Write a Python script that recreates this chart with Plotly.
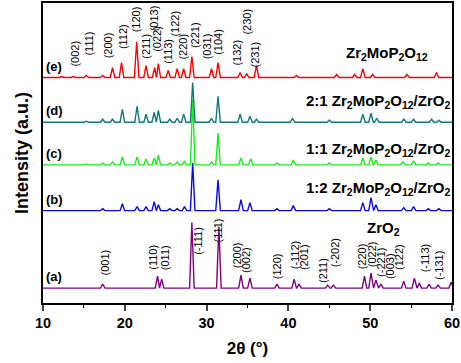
import plotly.graph_objects as go

# ---------------- data ----------------
# peak positions (2theta, deg) and heights (a.u.) for each pattern
e_pos = [12.3, 13.7, 15.3, 17.3, 18.5, 19.6, 21.45, 22.6, 23.65, 24.1, 25.3, 26.4, 27.2, 28.2, 30.6, 31.4, 34.1, 34.9, 36.1, 41.0, 45.9, 48.1, 49.1, 50.3, 54.5, 58.1]
e_h   = [1, 1, 2, 2, 10, 15, 36, 12, 10, 14, 7, 9, 9, 21, 9, 15, 5, 4, 12, 2, 3, 3, 9, 3, 3, 5]

d_pos = [15.3, 17.3, 18.5, 19.7, 21.5, 22.6, 23.6, 24.1, 25.5, 26.4, 27.2, 28.3, 30.6, 31.4, 34.1, 35.3, 36.1, 40.5, 45.0, 49.1, 50.1, 50.8, 54.1, 55.3, 57.5, 58.4]
d_h   = [1, 3, 3, 13, 16, 8, 10, 12, 3, 4, 8, 40, 4, 26, 8, 6, 3, 4, 2, 8, 9, 4, 3, 3, 3, 2]

c_pos = [15.3, 17.3, 18.5, 19.7, 21.5, 22.6, 23.6, 24.1, 25.5, 26.4, 27.3, 28.3, 30.6, 31.4, 34.2, 35.4, 38.6, 40.6, 45.0, 49.1, 50.1, 50.7, 54.0, 55.3, 57.1, 58.3]
c_h   = [1, 2, 3, 8, 8, 6, 7, 10, 2, 3, 4, 66, 3, 32, 7, 6, 2, 5, 2, 7, 8, 5, 3, 4, 2, 2]

b_pos = [17.3, 19.7, 21.5, 22.6, 23.6, 24.1, 25.5, 26.4, 27.3, 28.3, 31.4, 34.2, 35.3, 38.6, 40.6, 45.0, 49.1, 50.1, 50.7, 54.1, 55.3, 57.1, 58.4]
b_h   = [2, 7, 4, 4, 9, 6, 2, 2, 4, 48, 31, 11, 8, 2, 5, 2, 8, 13, 6, 3, 4, 2, 2]

a_pos = [17.3, 24.0, 24.5, 28.2, 31.5, 34.2, 35.3, 38.6, 40.7, 41.3, 44.8, 45.5, 49.3, 50.1, 50.7, 51.3, 54.1, 55.4, 56.0, 57.2, 58.3, 59.9]
a_h   = [4, 12, 9, 66, 62, 13, 10, 4, 9, 4, 3, 3, 12, 15, 8, 4, 7, 10, 5, 4, 3, 6]

series_names  = ["(a)", "(b)", "(c)", "(d)", "(e)"]
series_offset = [15, 93, 139, 182, 227]
series_colors = ["#800080", "#0a0ae6", "#19ee19", "#0f7a78", "#ff0000"]
series_pos = [a_pos, b_pos, c_pos, d_pos, e_pos]
series_h   = [a_h, b_h, c_h, d_h, e_h]

# Miller-index labels for Zr2MoP2O12 (e)
e_lab_text = ["(002)", "(111)", "(200)", "(112)", "(120)", "(211)", "(013)", "(022)", "(113)", "(122)", "(220)", "(221)", "(031)", "(104)", "(132)", "(230)", "(231)"]
e_lab_x    = [13.9, 15.6, 17.9, 19.7, 21.3, 22.6, 23.5, 23.95, 25.3, 26.1, 27.1, 28.5, 30.0, 31.4, 33.7, 34.9, 35.9]
e_lab_y    = [251, 261, 259, 268, 286, 258, 287, 266, 253, 281, 258, 270, 258, 263, 252, 283, 250]

# Miller-index labels for ZrO2 (a)
a_lab_text = ["(001)", "(110)", "(011)", "(-111)", "(111)", "(200)", "(002)", "(120)", "(-112)", "(201)", "(211)", "(-202)", "(220)", "(022)", "(-221)", "(003)", "(122)", "(-113)", "(-131)"]
a_lab_x    = [17.6, 23.5, 24.9, 29.0, 31.4, 33.7, 34.9, 38.6, 40.8, 42.0, 44.2, 45.7, 49.0, 50.2, 51.4, 52.4, 53.6, 56.7, 58.5]
a_lab_y    = [41, 46, 46, 63, 73, 48, 43, 37, 49, 46, 33, 50, 47, 49, 41, 37, 46, 45, 38]

right_text = ["ZrO<sub>2</sub>",
              "1:2 Zr<sub>2</sub>MoP<sub>2</sub>O<sub>12</sub>/ZrO<sub>2</sub>",
              "1:1 Zr<sub>2</sub>MoP<sub>2</sub>O<sub>12</sub>/ZrO<sub>2</sub>",
              "2:1 Zr<sub>2</sub>MoP<sub>2</sub>O<sub>12</sub>/ZrO<sub>2</sub>",
              "Zr<sub>2</sub>MoP<sub>2</sub>O<sub>12</sub>"]
right_x = [53.9, 60.0, 60.0, 60.0, 57.3]
right_y = [75, 115, 155, 203, 251]

x_ticks = [10, 20, 30, 40, 50, 60]

# ---------------- drawing ----------------
HW = 0.28  # half width of a drawn peak (style)


def profile(pos, h, base):
    xs, ys = [10.0], [base]
    pairs = sorted(zip(pos, h))
    for i, (p, hh) in enumerate(pairs):
        prev = pairs[i - 1][0] if i > 0 else None
        if prev is None or p - prev > 2 * HW:
            xs.append(p - HW); ys.append(base)
        else:
            xs.append((p + prev) / 2); ys.append(base)
        xs.append(p); ys.append(base + hh)
        nxt = pairs[i + 1][0] if i + 1 < len(pairs) else None
        if nxt is None or nxt - p > 2 * HW:
            xs.append(p + HW); ys.append(base)
    xs.append(60.0); ys.append(base)
    return xs, ys


fig = go.Figure()
for name, off, col, pos, h in zip(series_names, series_offset, series_colors, series_pos, series_h):
    xs, ys = profile(pos, h, off)
    fig.add_trace(go.Scatter(x=xs, y=ys, mode="lines", line=dict(color=col, width=1.4),
                             name=name, showlegend=False, hoverinfo="skip"))
    fig.add_annotation(x=10.15, y=off + 2, text="<b>%s</b>" % name, showarrow=False,
                       xanchor="left", yanchor="bottom",
                       font=dict(family="Liberation Sans", size=13, color="black"))

lab_font = dict(family="Liberation Sans", size=11, color="black")
for t, x, y in zip(e_lab_text + a_lab_text, e_lab_x + a_lab_x, e_lab_y + a_lab_y):
    fig.add_annotation(x=x, y=y, text=t, textangle=-90, showarrow=False,
                       xanchor="center", yanchor="middle", font=lab_font)

for t, x, y in zip(right_text, right_x, right_y):
    fig.add_annotation(x=x, y=y, text="<b>%s</b>" % t, showarrow=False,
                       xanchor="right", yanchor="middle",
                       font=dict(family="Liberation Sans", size=15, color="black"))

fig.update_layout(
    width=461, height=363,
    margin=dict(l=43, r=9, t=1, b=60),
    paper_bgcolor="white", plot_bgcolor="white",
    xaxis=dict(range=[10, 60], tickvals=x_ticks, ticks="outside", ticklen=6, tickwidth=1.5,
               showline=True, linecolor="black", linewidth=1.5, mirror=True,
               showgrid=False, zeroline=False,
               minor=dict(dtick=5, tick0=10, ticks="outside", ticklen=3, tickcolor="black", tickwidth=1.2),
               tickfont=dict(family="Liberation Sans", size=14.5, color="black", weight="bold"),
               title=dict(text="<b>2θ (°)</b>", standoff=12,
                          font=dict(family="Liberation Sans", size=17, color="black"))),
    yaxis=dict(range=[0, 302], showticklabels=False, ticks="",
               showline=True, linecolor="black", linewidth=1.5, mirror=True,
               showgrid=False, zeroline=False,
               title=dict(text="<b>Intensity (a.u.)</b>", standoff=8,
                          font=dict(family="Liberation Sans", size=18, color="black"))),
)

fig.write_html("out.html", config={"displayModeBar": False},
               post_script="document.body.style.margin='0';document.body.style.overflow='hidden';")
